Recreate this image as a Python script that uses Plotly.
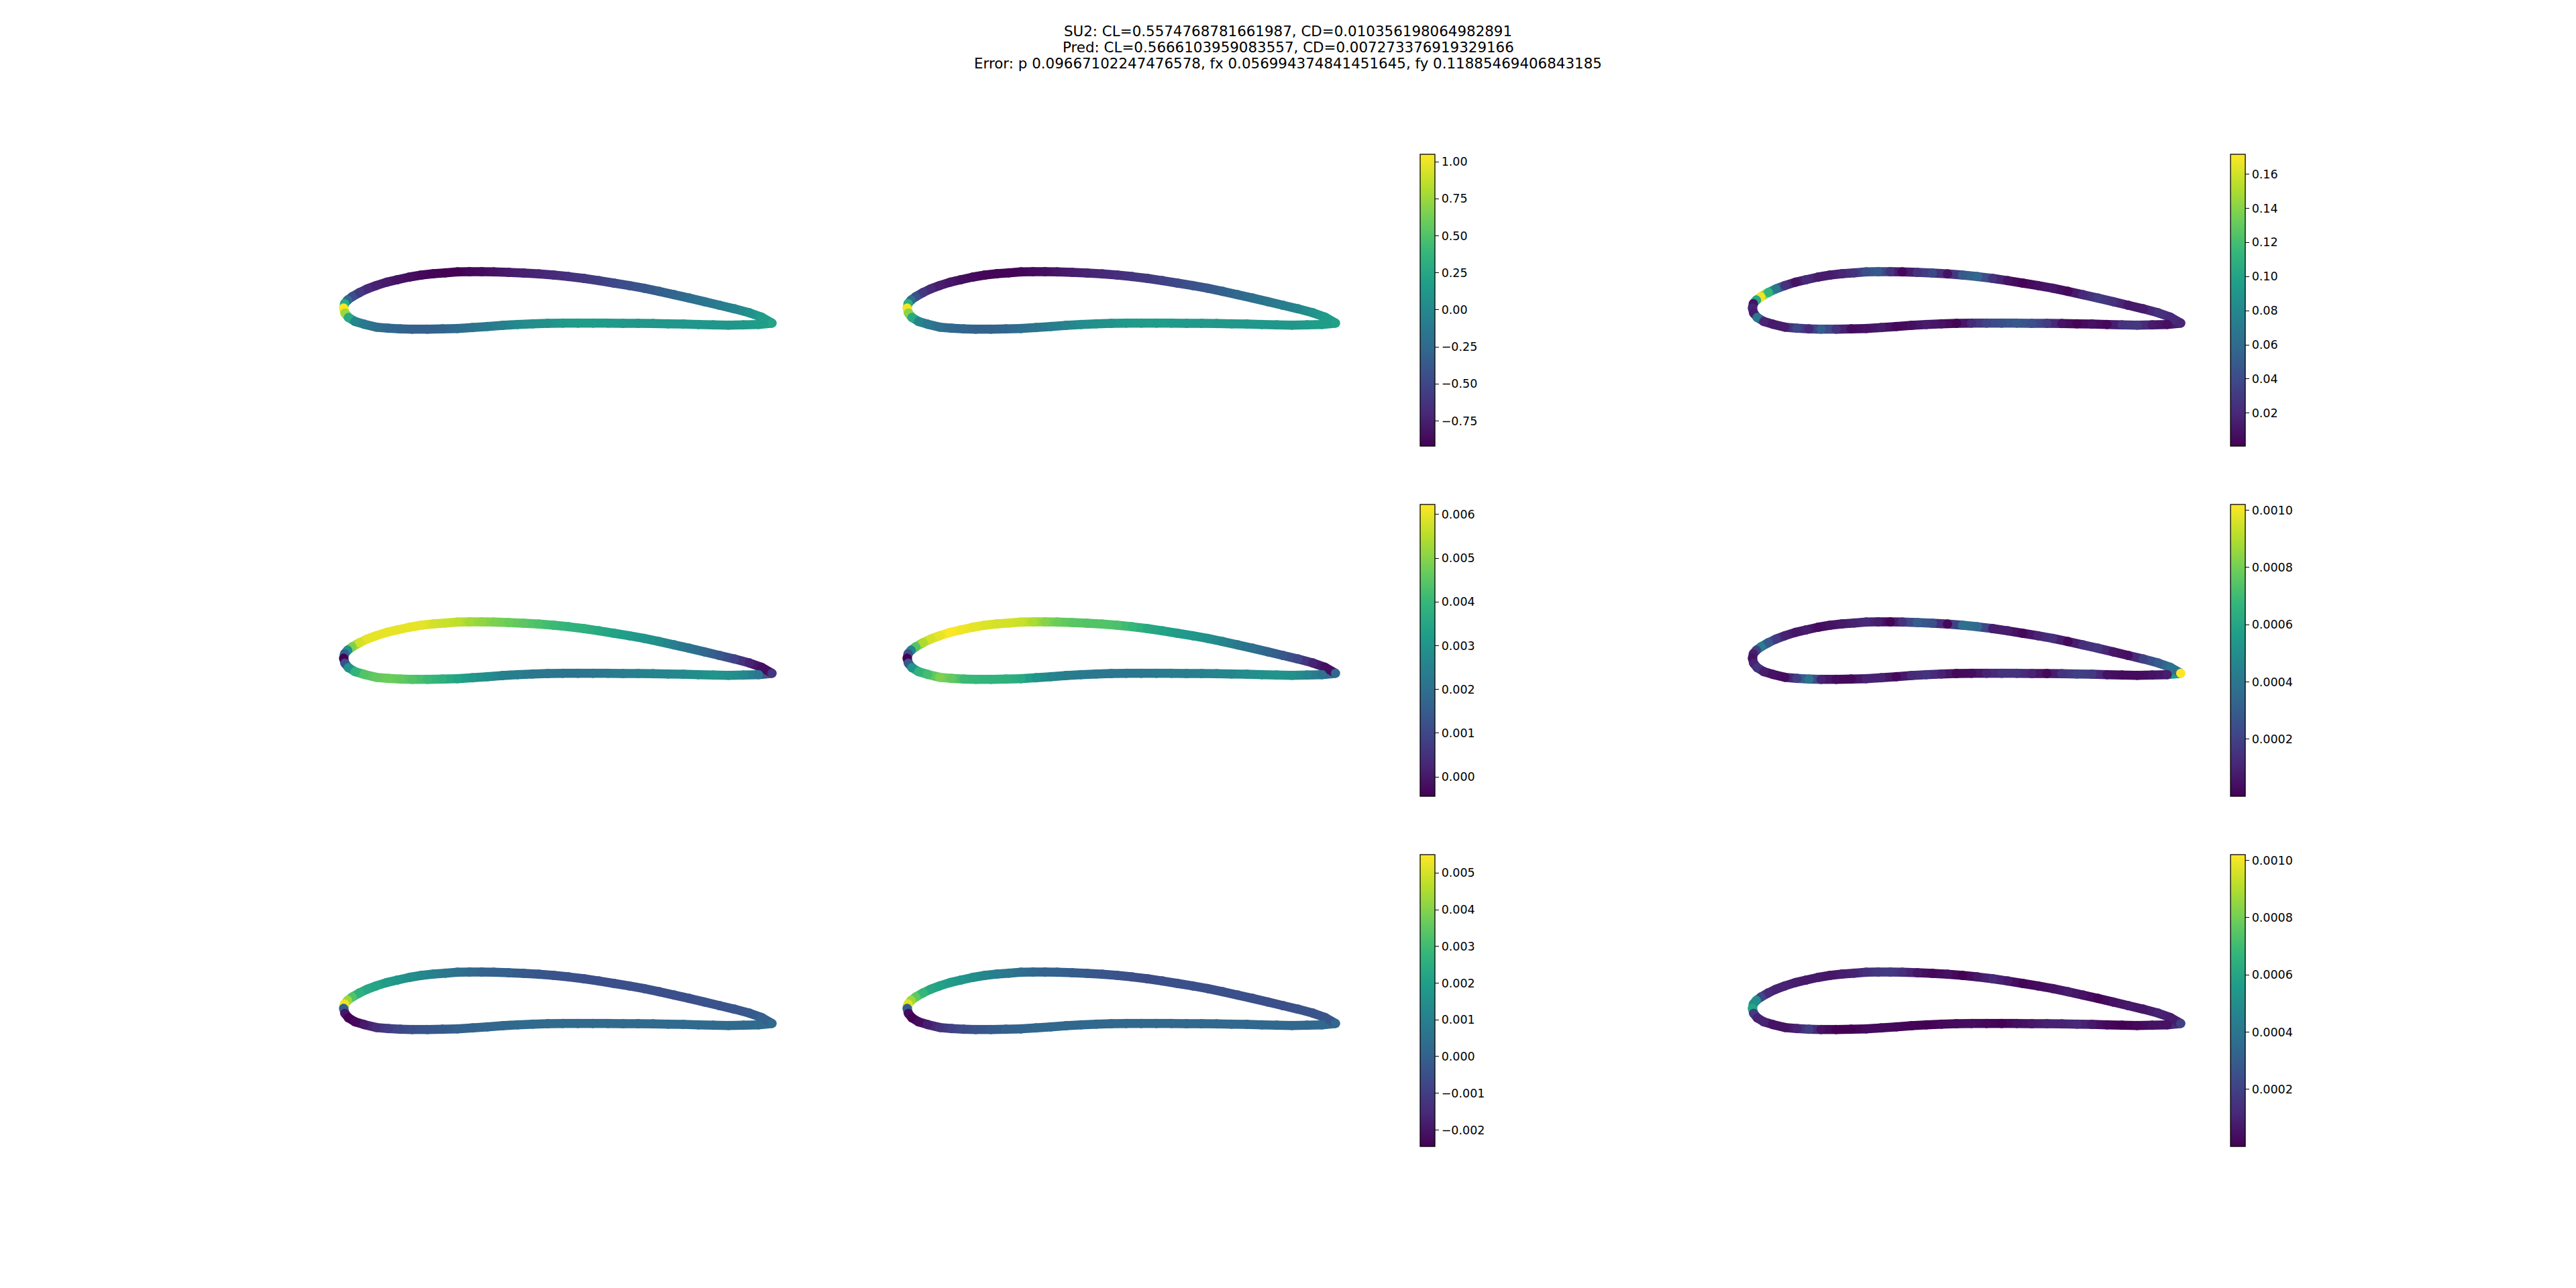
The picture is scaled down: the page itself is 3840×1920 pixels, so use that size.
import numpy as np
import plotly.graph_objects as go
from plotly.colors import sample_colorscale

# Title lines
TITLE_LINES = [
    "SU2: CL=0.5574768781661987, CD=0.010356198064982891",
    "Pred: CL=0.5666103959083557, CD=0.007273376919329166",
    "Error: p 0.09667102247476578, fx 0.056994374841451645, fy 0.11885469406843185",
]

# Airfoil outline, leading edge to trailing edge (arbitrary hidden-axis units)
X_UPPER = [72,75,85,100,125,150,180,215,250,290,330,370,410,450,490,530,570,620,670,720,770,820,870,920,970,1020,1070,1120,1170,1220,1270,1320,1370,1420,1460,1495]
Y_UPPER = [212,232,248,263,282,298,313,328,339,351,360,366,370,374,375,375,374,372,369,365,360,353,345,335,324,313,301,287,272,257,241,225,209,191,172,145]
X_LOWER = [72,76,88,110,140,180,220,260,300,350,400,450,500,550,600,650,700,750,800,850,900,950,1000,1050,1100,1150,1200,1250,1300,1350,1400,1450,1495]
Y_LOWER = [212,190,170,152,140,127,122,119,118,118,119,121,125,130,135,139,142,144,145,145,145,145,144,144,143,142,141,139,137,136,137,139,145]

# Row 1: p
P_SU2_UP = [1.05,0.26,-0.23,-0.43,-0.58,-0.68,-0.74,-0.78,-0.82,-0.84,-0.88,-0.90,-0.92,-0.92,-0.88,-0.86,-0.82,-0.78,-0.74,-0.72,-0.68,-0.64,-0.60,-0.55,-0.49,-0.43,-0.39,-0.33,-0.27,-0.21,-0.15,-0.09,-0.03,0.07,0.17,0.22]
P_SU2_LO = [1.05,0.75,0.26,-0.03,-0.13,-0.21,-0.27,-0.29,-0.31,-0.31,-0.29,-0.23,-0.17,-0.11,-0.05,0.01,0.05,0.07,0.13,0.17,0.17,0.15,0.13,0.11,0.11,0.11,0.11,0.11,0.11,0.11,0.13,0.17,0.22]
P_PRED_UP = [1.02,0.30,-0.20,-0.42,-0.60,-0.70,-0.76,-0.80,-0.84,-0.86,-0.89,-0.90,-0.90,-0.89,-0.86,-0.84,-0.80,-0.76,-0.73,-0.70,-0.66,-0.62,-0.58,-0.53,-0.48,-0.42,-0.37,-0.32,-0.26,-0.20,-0.14,-0.08,-0.02,0.08,0.16,0.20]
P_PRED_LO = [1.02,0.70,0.28,-0.02,-0.12,-0.20,-0.26,-0.28,-0.30,-0.30,-0.27,-0.21,-0.15,-0.09,-0.03,0.03,0.07,0.09,0.13,0.15,0.16,0.15,0.14,0.13,0.12,0.12,0.12,0.12,0.12,0.12,0.14,0.17,0.20]
P_ERR_UP = [0.018,0.009,0.103,0.168,0.112,0.069,0.026,0.009,0.021,0.014,0.014,0.018,0.026,0.043,0.049,0.026,0.004,0.026,0.038,0.009,0.049,0.057,0.026,0.009,0.002,0.008,0.011,0.004,0.021,0.031,0.025,0.011,0.014,0.026,0.021,0.018]
P_ERR_LO = [0.018,0.014,0.069,0.018,0.013,0.014,0.038,0.021,0.052,0.026,0.006,0.009,0.014,0.004,0.008,0.014,0.009,0.002,0.021,0.035,0.043,0.049,0.043,0.031,0.009,0.002,0.009,0.004,0.026,0.030,0.013,0.008,0.018]

# Row 2: fx
FX_SU2_UP = [-0.00044,0.0016,0.0029,0.0049,0.0058,0.0060,0.0060,0.0060,0.0060,0.0060,0.0060,0.0058,0.0057,0.0056,0.0053,0.0051,0.0049,0.0047,0.0045,0.0043,0.0041,0.0039,0.0038,0.0036,0.0034,0.0032,0.0030,0.0028,0.0024,0.0021,0.0018,0.0014,0.0009,0.0002,-0.0002,0.0006]
FX_SU2_LO = [-0.00044,0.0012,0.0029,0.0039,0.0044,0.0046,0.0047,0.0046,0.0044,0.0041,0.0038,0.0034,0.0031,0.0028,0.0025,0.0024,0.0022,0.0022,0.0021,0.0021,0.0022,0.0023,0.0024,0.0025,0.0026,0.0026,0.0027,0.0028,0.0030,0.0029,0.0027,0.0022,0.0006]
FX_PRED_UP = [-0.00044,0.0012,0.0026,0.0044,0.0054,0.0058,0.0060,0.00623,0.0061,0.0060,0.0059,0.0058,0.0058,0.0057,0.0054,0.0050,0.0047,0.0045,0.0044,0.0044,0.0043,0.0040,0.0036,0.0034,0.0032,0.0031,0.0029,0.0026,0.0022,0.0020,0.0017,0.0014,0.0010,0.0002,-0.0002,0.0018]
FX_PRED_LO = [-0.00044,0.0014,0.0030,0.0039,0.0042,0.0049,0.0046,0.0041,0.0040,0.0039,0.0038,0.0036,0.0030,0.0026,0.0024,0.0023,0.0022,0.0022,0.0022,0.0022,0.0023,0.0024,0.0024,0.0025,0.0026,0.0026,0.0028,0.0029,0.0030,0.0029,0.0026,0.0021,0.0018]
FX_ERR_UP = [0.00005,0.00008,0.0002,0.00043,0.00029,0.00018,0.0001,0.00006,0.00008,0.00003,0.00005,0.00007,0.0001,0.00012,0.00008,0.00001,0.00015,0.0003,0.00025,0.00002,0.00038,0.00035,0.00008,0.00008,0.00002,0.0001,0.00014,0.00002,0.00014,0.00016,0.00006,0.00004,0.0002,0.0003,0.00038,0.00102]
FX_ERR_LO = [0.00005,0.0001,0.00015,0.00008,0.00005,0.00003,0.0002,0.0004,0.0001,0.00003,0.00002,0.0001,0.0001,0.00002,0.00012,0.00015,0.0001,0.00002,0.00003,0.0001,0.00015,0.00015,0.0001,0.00002,0.00015,0.0002,0.00018,0.00005,0.00003,0.00003,0.00005,0.00008,0.00102]

# Row 3: fy
FY_SU2_UP = [-0.0001,0.0053,0.0043,0.0033,0.0026,0.0023,0.0022,0.0019,0.0017,0.0015,0.0013,0.0010,0.0007,0.0005,0.0003,0.0001,0.0000,0.0000,-0.0002,-0.0003,-0.0004,-0.0004,-0.0005,-0.0005,-0.0005,-0.0005,-0.0005,-0.0005,-0.0005,-0.0005,-0.0004,-0.0004,-0.0003,-0.0002,0.0000,0.0003]
FY_SU2_LO = [-0.0001,-0.0020,-0.00245,-0.0023,-0.0019,-0.0014,-0.0010,-0.0007,-0.0005,-0.0003,-0.0002,0.0000,0.0001,0.0002,0.0002,0.0003,0.0003,0.0003,0.0003,0.0003,0.0003,0.0003,0.0003,0.0003,0.0003,0.0003,0.0003,0.0003,0.0003,0.0003,0.0003,0.0003,0.0003]
FY_PRED_UP = [-0.0001,0.0051,0.0043,0.0035,0.0028,0.0023,0.0021,0.0019,0.0017,0.0015,0.0012,0.0009,0.0007,0.0004,0.0002,0.0000,0.0000,-0.0001,-0.0002,-0.0003,-0.0004,-0.0005,-0.0006,-0.0005,-0.0005,-0.0005,-0.0005,-0.0005,-0.0005,-0.0005,-0.0005,-0.0005,-0.0004,-0.0004,-0.0003,0.0002]
FY_PRED_LO = [-0.0001,-0.0022,-0.00245,-0.0022,-0.0018,-0.0013,-0.0009,-0.0006,-0.0004,-0.0002,0.0000,0.0001,0.0002,0.0002,0.0002,0.0002,0.0002,0.0002,0.0002,0.0002,0.0002,0.0002,0.0002,0.0002,0.0002,0.0002,0.0002,0.0002,0.0002,0.0002,0.0002,0.0002,0.0002]
FY_ERR_UP = [0.0006,0.0005,0.0005,0.00022,0.00012,0.0001,0.0001,0.00008,0.00007,0.00007,0.00006,0.00008,0.0001,0.00014,0.00017,0.00018,0.00014,0.00006,0.00002,0.00005,0.0,0.00006,0.00012,0.00007,0.00001,0.00003,0.00005,0.00008,0.00005,0.00001,0.00005,0.00007,0.00006,0.0001,0.00008,0.0002]
FY_ERR_LO = [0.0001,0.00018,0.0001,0.0001,0.00005,0.00005,0.0001,0.0002,0.00005,0.0,0.0,0.00003,0.00003,0.00002,0.00001,0.0,0.00002,0.00003,0.00004,0.00002,0.0,0.00004,0.00006,0.00009,0.0001,0.00012,0.00007,0.00002,0.0,0.00002,0.00005,0.00005,0.0002]

# Colour ranges, per row for SU2 / Pred, and for error
RANGE_P = (-0.92, 1.05)
RANGE_FX = (-0.000445, 0.00623)
RANGE_FY = (-0.00245, 0.0055)
RANGE_P_ERR = (0.0007, 0.1716)
RANGE_FX_ERR = (0.0, 0.00102)
RANGE_FY_ERR = (0.0, 0.00102)

# Colourbar ticks
TICKS_P = [-0.75,-0.5,-0.25,0,0.25,0.5,0.75,1.0]
LABELS_P = ["\u22120.75","\u22120.50","\u22120.25","0.00","0.25","0.50","0.75","1.00"]
TICKS_FX = [0,0.001,0.002,0.003,0.004,0.005,0.006]
LABELS_FX = ["0.000","0.001","0.002","0.003","0.004","0.005","0.006"]
TICKS_FY = [-0.002,-0.001,0,0.001,0.002,0.003,0.004,0.005]
LABELS_FY = ["\u22120.002","\u22120.001","0.000","0.001","0.002","0.003","0.004","0.005"]
TICKS_P_ERR = [0.02,0.04,0.06,0.08,0.10,0.12,0.14,0.16]
LABELS_P_ERR = ["0.02","0.04","0.06","0.08","0.10","0.12","0.14","0.16"]
TICKS_F_ERR = [0.0002,0.0004,0.0006,0.0008,0.0010]
LABELS_F_ERR = ["0.0002","0.0004","0.0006","0.0008","0.0010"]

W, H = 3840, 1920
PAGE_MARGIN = 8  # the browser's default body margin offsets the whole figure
COL_LEFT = [480 - PAGE_MARGIN, 1320 - PAGE_MARGIN, 2580 - PAGE_MARGIN]
ROW_TOP = [360 - PAGE_MARGIN, 882 - PAGE_MARGIN, 1404 - PAGE_MARGIN]
PANEL_W, PANEL_H = 700, 170
CB_X = [2117 - PAGE_MARGIN, 3325 - PAGE_MARGIN]
CB_TOP = [230 - PAGE_MARGIN, 752 - PAGE_MARGIN, 1274 - PAGE_MARGIN]
CB_LEN = 435
FONT = "DejaVu Sans"

PANELS = [
    (0, 0, P_SU2_UP, P_SU2_LO, RANGE_P, None),
    (0, 1, P_PRED_UP, P_PRED_LO, RANGE_P, (CB_X[0], CB_TOP[0], TICKS_P, LABELS_P)),
    (0, 2, P_ERR_UP, P_ERR_LO, RANGE_P_ERR, (CB_X[1], CB_TOP[0], TICKS_P_ERR, LABELS_P_ERR)),
    (1, 0, FX_SU2_UP, FX_SU2_LO, RANGE_FX, None),
    (1, 1, FX_PRED_UP, FX_PRED_LO, RANGE_FX, (CB_X[0], CB_TOP[1], TICKS_FX, LABELS_FX)),
    (1, 2, FX_ERR_UP, FX_ERR_LO, RANGE_FX_ERR, (CB_X[1], CB_TOP[1], TICKS_F_ERR, LABELS_F_ERR)),
    (2, 0, FY_SU2_UP, FY_SU2_LO, RANGE_FY, None),
    (2, 1, FY_PRED_UP, FY_PRED_LO, RANGE_FY, (CB_X[0], CB_TOP[2], TICKS_FY, LABELS_FY)),
    (2, 2, FY_ERR_UP, FY_ERR_LO, RANGE_FY_ERR, (CB_X[1], CB_TOP[2], TICKS_F_ERR, LABELS_F_ERR)),
]

# Contour order: upper surface trailing edge -> leading edge, then lower surface -> trailing edge
xs = list(reversed(X_UPPER[:-1])) + X_LOWER[1:]
ys = list(reversed(Y_UPPER[:-1])) + Y_LOWER[1:]

fig = go.Figure()
layout_axes = {}
for idx, (r, c, up, lo, (vmin, vmax), cb) in enumerate(PANELS):
    suffix = "" if idx == 0 else str(idx + 1)
    vals = list(reversed(up[:-1])) + lo[1:]
    layout_axes["xaxis" + suffix] = dict(
        domain=[COL_LEFT[c] / W, (COL_LEFT[c] + PANEL_W) / W],
        range=[0, 1560], visible=False, anchor="y" + suffix, fixedrange=True)
    layout_axes["yaxis" + suffix] = dict(
        domain=[1 - (ROW_TOP[r] + PANEL_H) / H, 1 - ROW_TOP[r] / H],
        range=[0, 510], visible=False, anchor="x" + suffix, fixedrange=True)
    n = len(xs)
    for i in range(n):
        j = (i + 1) % n
        if j == 0:
            t = (vals[0] - vmin) / (vmax - vmin)
        else:
            t = ((vals[i] + vals[j]) / 2 - vmin) / (vmax - vmin)
        t = min(max(t, 0), 1)
        color = sample_colorscale("Viridis", [t])[0]
        fig.add_trace(go.Scatter(
            x=[xs[i], xs[j]], y=[ys[i], ys[j]], mode="lines",
            line=dict(color=color, width=13.5), hoverinfo="skip", showlegend=False,
            xaxis="x" + suffix, yaxis="y" + suffix))
    marker = dict(size=14, color=vals, colorscale="Viridis", cmin=vmin, cmax=vmax,
                  line=dict(width=0), opacity=1, showscale=cb is not None)
    if cb is not None:
        marker["colorbar"] = dict(
            x=cb[0] / W, xanchor="left", xpad=0, y=1 - cb[1] / H, yanchor="top", ypad=0,
            lenmode="pixels", len=CB_LEN, thicknessmode="pixels", thickness=22,
            outlinecolor="black", outlinewidth=1.3, borderwidth=0,
            ticks="outside", ticklen=6, tickwidth=1.3, tickcolor="black",
            tickmode="array", tickvals=cb[2], ticktext=cb[3],
            tickfont=dict(family=FONT, size=17.5, color="black"))
    fig.add_trace(go.Scatter(x=xs, y=ys, mode="markers", marker=marker,
                             showlegend=False, hoverinfo="skip",
                             xaxis="x" + suffix, yaxis="y" + suffix))

annotations = [
    dict(text=line, x=(1920 - PAGE_MARGIN) / W, xref="paper", xanchor="center",
         y=1 - (py - PAGE_MARGIN) / H, yref="paper", yanchor="middle", showarrow=False,
         font=dict(family=FONT, size=21.4, color="black"))
    for line, py in zip(TITLE_LINES, [47, 70.5, 94])
]

fig.update_layout(
    width=W, height=H, autosize=False,
    margin=dict(l=0, r=0, t=0, b=0, autoexpand=False),
    paper_bgcolor="white", plot_bgcolor="white",
    showlegend=False, annotations=annotations, **layout_axes)
fig.write_html("out.html")
